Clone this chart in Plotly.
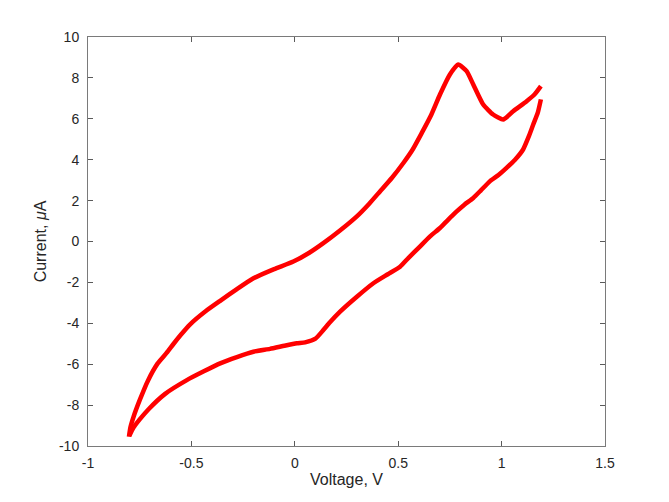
import plotly.graph_objects as go

# Forward (anodic) scan
fwd_voltage = [-0.802, -0.795, -0.78, -0.75, -0.709, -0.663, -0.62, -0.586, -0.55, -0.506,
               -0.43, -0.361, -0.28, -0.2, -0.1, -0.007, 0.07, 0.138, 0.22, 0.3,
               0.36, 0.412, 0.47, 0.525, 0.57, 0.614, 0.66, 0.702, 0.75, 0.79,
               0.831, 0.863, 0.911, 0.959, 1.008, 1.056, 1.121, 1.16, 1.19]
fwd_current = [-9.55, -9.1, -8.58, -7.76, -6.78, -5.96, -5.45, -5.0, -4.55, -4.05,
               -3.4, -2.9, -2.33, -1.8, -1.35, -0.98, -0.55, -0.08, 0.55, 1.23,
               1.85, 2.45, 3.12, 3.84, 4.5, 5.31, 6.2, 7.19, 8.17, 8.66,
               8.33, 7.68, 6.70, 6.21, 5.97, 6.37, 6.86, 7.2, 7.6]

# Reverse (cathodic) scan
rev_voltage = [1.19, 1.175, 1.153, 1.13, 1.104, 1.065, 1.024, 0.985, 0.943, 0.9,
               0.863, 0.82, 0.783, 0.74, 0.702, 0.654, 0.6, 0.55, 0.509, 0.45,
               0.38, 0.3, 0.219, 0.17, 0.138, 0.1, 0.05, 0.01, -0.05, -0.12,
               -0.2, -0.28, -0.361, -0.44, -0.522, -0.627, -0.707, -0.75, -0.78, -0.8]
rev_current = [6.95, 6.3, 5.72, 5.1, 4.5, 4.0, 3.6, 3.25, 2.94, 2.5,
               2.13, 1.8, 1.47, 1.05, 0.66, 0.25, -0.3, -0.8, -1.23, -1.6,
               -2.04, -2.7, -3.43, -3.95, -4.33, -4.75, -4.93, -4.98, -5.1, -5.25,
               -5.39, -5.65, -5.96, -6.35, -6.78, -7.45, -8.2, -8.7, -9.1, -9.5]

x_ticks = [-1, -0.5, 0, 0.5, 1, 1.5]
x_ticktext = ["-1", "-0.5", "0", "0.5", "1", "1.5"]
y_ticks = [-10, -8, -6, -4, -2, 0, 2, 4, 6, 8, 10]
y_ticktext = ["-10", "-8", "-6", "-4", "-2", "0", "2", "4", "6", "8", "10"]

line_style = dict(color="#ff0000", width=4.5, shape="spline", smoothing=0.5)

fig = go.Figure()
fig.add_trace(go.Scatter(x=fwd_voltage, y=fwd_current, mode="lines", line=line_style,
                         showlegend=False, hoverinfo="skip"))
fig.add_trace(go.Scatter(x=rev_voltage, y=rev_current, mode="lines", line=line_style,
                         showlegend=False, hoverinfo="skip"))

axis_common = dict(
    showgrid=False, zeroline=False, showline=True, linecolor="#7a7a7a", linewidth=1,
    mirror="ticks", ticks="inside", ticklen=5, tickcolor="#5a5a5a", tickwidth=1,
    tickfont=dict(family="Liberation Sans, Arial, sans-serif", size=14, color="#262626"),
)

fig.update_layout(
    width=669, height=502,
    margin=dict(l=88, r=64, t=37, b=56),
    paper_bgcolor="white", plot_bgcolor="white",
    font=dict(family="Liberation Sans, Arial, sans-serif", color="#262626"),
    xaxis=dict(range=[-1, 1.5], tickvals=x_ticks, ticktext=x_ticktext,
               ticklabelstandoff=4,
               title=dict(text="Voltage, V", font=dict(size=16, color="#262626"), standoff=4),
               **axis_common),
    yaxis=dict(range=[-10, 10], tickvals=y_ticks, ticktext=y_ticktext,
               ticklabelstandoff=5,
               title=dict(text="Current, <i>μ</i>A", font=dict(size=16, color="#262626"), standoff=8),
               **axis_common),
)

fig.write_html("out.html")
